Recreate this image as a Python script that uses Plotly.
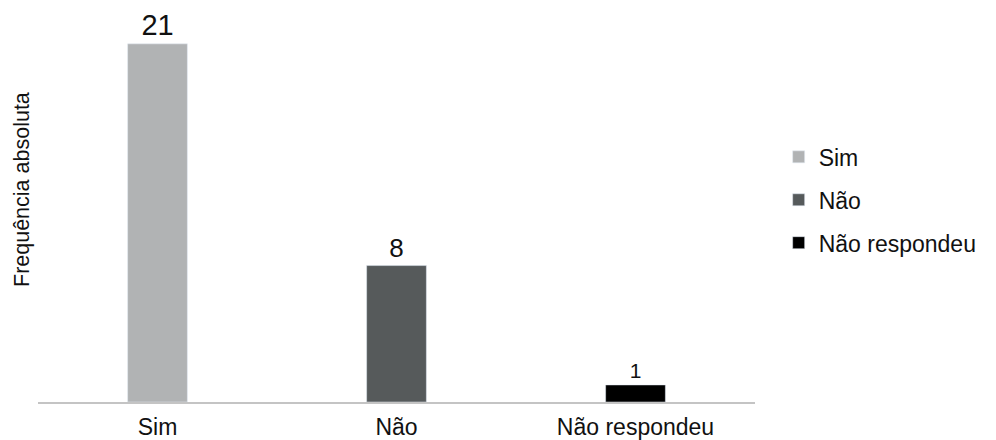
import plotly.graph_objects as go

categories = ["Sim", "Não", "Não respondeu"]
values = [21, 8, 1]
colors = ["#B1B3B4", "#565A5B", "#000000"]
label_sizes = [29, 26, 21]

fig = go.Figure()
for cat, val, col, ls in zip(categories, values, colors, label_sizes):
    fig.add_trace(go.Bar(
        x=[cat], y=[val], name=cat, marker_color=col, width=0.25,
        legendgroup=cat,
        text=[str(val)], textposition="outside",
        textfont=dict(size=ls, color="#111111"),
        constraintext="none",
        cliponaxis=False,
    ))

fig.update_layout(
    width=996, height=440,
    margin=dict(l=38, r=241, t=20, b=38, autoexpand=False),
    paper_bgcolor="white", plot_bgcolor="white",
    barmode="overlay",
    font=dict(family="Liberation Sans, Arial, sans-serif", color="#111111"),
    showlegend=True,
    legend=dict(
        x=1.033, y=0.529, xanchor="left", yanchor="middle",
        font=dict(size=23), tracegroupgap=10,
        bgcolor="rgba(0,0,0,0)",
    ),
    xaxis=dict(
        showline=True, linecolor="#C4C4C4", linewidth=1.5,
        ticks="", showgrid=False, tickfont=dict(size=23),
        ticklabelstandoff=4,
        automargin=False,
    ),
    yaxis=dict(
        range=[0, 22.4], visible=False, showgrid=False, zeroline=False,
    ),
    annotations=[dict(
        text="Frequência absoluta", textangle=-90,
        xref="paper", yref="paper", x=-0.0223, y=0.555,
        xanchor="center", yanchor="middle", showarrow=False,
        font=dict(size=21.5, color="#111111"),
    )],
)

fig.write_html("out.html")
